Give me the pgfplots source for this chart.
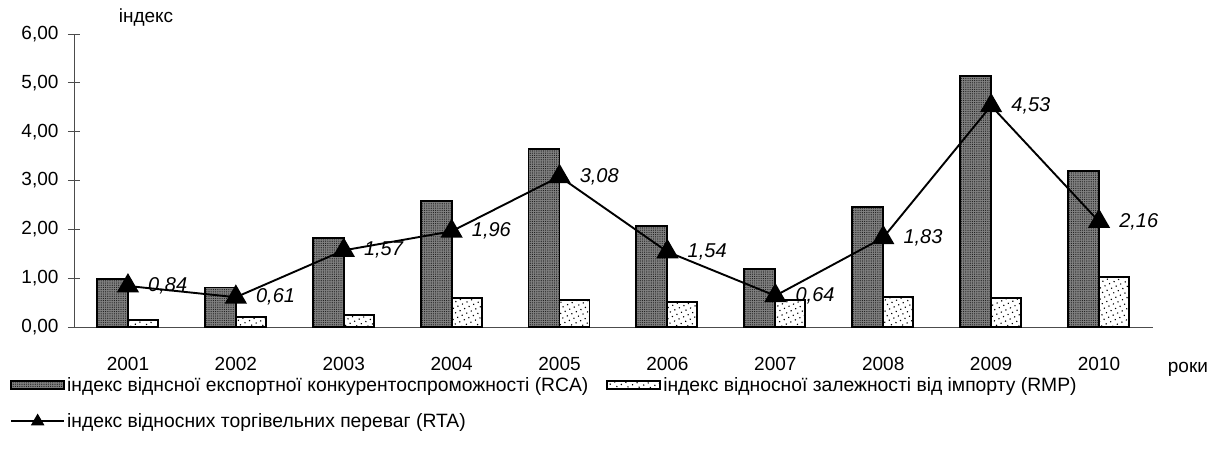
\documentclass[border=0pt]{standalone}
\usepackage{fontspec}
\setmainfont{Liberation Sans}
\usepackage{pgfplots}
\pgfplotsset{compat=1.18}
\usetikzlibrary{patterns,patterns.meta}

\pgfplotsset{
  barlegend/.style={legend image code/.code={\draw[#1, line width=1.8pt] (0pt,-4pt) rectangle (53pt,4pt);}},
  linelegend/.style={legend image code/.code={\draw[#1,mark=none] (0pt,0pt) -- (53pt,0pt);
    \draw[#1, mark size=6pt] plot coordinates {(26.5pt,0pt)};}},
}

\pgfplotstableread{
x rca rmp rta
0 0.98 0.14 0.84
1 0.81 0.20 0.61
2 1.82 0.24 1.57
3 2.58 0.59 1.96
4 3.65 0.55 3.08
5 2.07 0.52 1.54
6 1.19 0.55 0.64
7 2.46 0.62 1.83
8 5.14 0.59 4.53
9 3.20 1.03 2.16
}\datatable

\begin{document}
\begin{tikzpicture}[font=\fontsize{19pt}{22pt}\selectfont]
\useasboundingbox (-74pt,-121pt) rectangle (1147pt,327pt);
\begin{axis}[
  at={(0pt,0pt)}, anchor=south west,
  scale only axis,
  width=1079pt, height=293pt,
  xmin=-0.5, xmax=9.5, ymin=0, ymax=6,
  axis lines*=left,
  axis line style={black!70, line width=0.9pt},
  /pgf/number format/assume math mode=true,
  xtick={0,...,9},
  xticklabels={2001,2002,2003,2004,2005,2006,2007,2008,2009,2010},
  xtick style={draw=none},
  minor xtick={0.5,1.5,...,9.5},
  minor tick length=7pt,
  tick align=outside,
  major tick length=12pt,
  ytick={0,1,...,6},
  ytick style={black!70, line width=0.9pt, xshift=6pt},
  minor tick style={black!70, line width=0.9pt},
  xticklabel style={font=\fontsize{19pt}{22pt}\selectfont, yshift=-15pt},
  yticklabel style={font=\fontsize{19pt}{22pt}\selectfont, xshift=0pt,
    /pgf/number format/.cd, fixed, fixed zerofill, precision=2, use comma},
  clip=false,
  legend columns=2,
  legend cell align=left,
  legend style={at={(axis description cs:0,0)}, anchor=north west,
    xshift=-64pt, yshift=-48pt, draw=none, fill=none,
    font=\fontsize{19.3pt}{22pt}\selectfont,
    /tikz/every even column/.append style={column sep=16pt},
    row sep=17pt, inner sep=0pt},
]
\addplot[ybar, bar width=31pt, bar shift=-15.5pt, draw=black, line width=1.9pt,
  fill=black!50,
  postaction={pattern={Dots[distance=2.2pt,radius=0.6pt]}, pattern color=black!90},
  barlegend]
  table[x=x,y=rca]{\datatable};
\addlegendentry{індекс віднсної експортної конкурентоспроможності (RCA)}
\addplot[ybar, bar width=30pt, bar shift=15pt, draw=black, line width=1.9pt,
  fill=white,
  postaction={pattern={Dots[distance=5pt,radius=0.8pt,angle=25]}, pattern color=black},
  barlegend]
  table[x=x,y=rmp]{\datatable};
\addlegendentry{індекс відносної залежності від імпорту (RMP)}
\addplot[black, line width=1.9pt, mark=triangle*, mark size=11pt,
  mark options={solid, fill=black},
  nodes near coords={\pgfmathprintnumber[fixed,fixed zerofill,precision=2,use comma]{\pgfplotspointmeta}},
  every node near coord/.append style={font=\fontsize{20pt}{23pt}\selectfont\itshape,
    anchor=west, xshift=16pt, yshift=0pt, text=black},
  linelegend]
  table[x=x,y=rta]{\datatable};
\addlegendentry{індекс відносних торгівельних переваг (RTA)}
\node[anchor=center] at (axis description cs:0,1) [xshift=72pt, yshift=16pt] {індекс};
\node[anchor=center] at (axis description cs:1,0) [xshift=35pt, yshift=-42pt] {роки};
\end{axis}
\end{tikzpicture}
\end{document}
